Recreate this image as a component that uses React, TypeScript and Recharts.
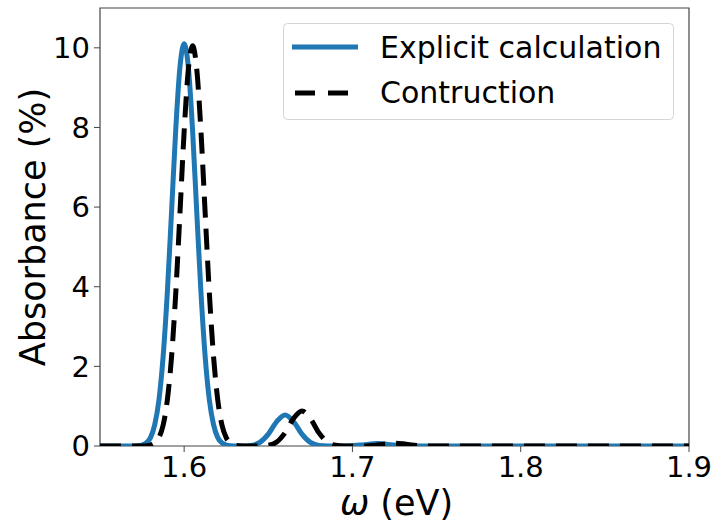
import React from "react"
import { LineChart, Line, XAxis, YAxis, Legend, ReferenceArea, Label } from "recharts"

// photon energy grid (eV)
const omega = [
  1.55, 1.56, 1.565,
  1.57, 1.5725, 1.575, 1.5775, 1.58, 1.5825, 1.585, 1.5875, 1.59, 1.5925, 1.595, 1.5975, 1.6,
  1.6025, 1.605, 1.6075, 1.61, 1.6125, 1.615, 1.6175, 1.62, 1.6225, 1.625, 1.6275, 1.63, 1.6325, 1.635,
  1.64, 1.645, 1.65, 1.655, 1.66, 1.665, 1.67, 1.675, 1.68, 1.685, 1.69, 1.695,
  1.7, 1.705, 1.71, 1.715, 1.72, 1.725, 1.73, 1.735, 1.74, 1.745, 1.75,
  1.76, 1.78, 1.8, 1.82, 1.84, 1.86, 1.88, 1.9,
]

// absorbance (%) from the explicit calculation
const explicit = [
  0, 0, 0,
  0.002, 0.007, 0.024, 0.076, 0.21, 0.53, 1.15, 2.24, 3.85, 5.87, 7.94, 9.51, 10.1,
  9.51, 7.94, 5.87, 3.85, 2.24, 1.15, 0.53, 0.21, 0.076, 0.024, 0.007, 0.002, 0, 0,
  0.016, 0.089, 0.297, 0.613, 0.78, 0.613, 0.297, 0.089, 0.016, 0.002, 0, 0,
  0.007, 0.023, 0.047, 0.06, 0.047, 0.023, 0.007, 0.001, 0, 0, 0,
  0, 0, 0, 0, 0, 0, 0, 0,
]

// absorbance (%) from the contruction
const contruction = [
  0, 0, 0,
  0, 0.001, 0.002, 0.007, 0.024, 0.076, 0.21, 0.52, 1.15, 2.23, 3.83, 5.84, 7.9,
  9.46, 10.05, 9.46, 7.9, 5.84, 3.83, 2.23, 1.15, 0.52, 0.21, 0.076, 0.024, 0.007, 0.002,
  0, 0.002, 0.019, 0.1, 0.335, 0.692, 0.88, 0.692, 0.335, 0.1, 0.019, 0.002,
  0, 0.001, 0.008, 0.027, 0.055, 0.07, 0.055, 0.027, 0.008, 0.001, 0,
  0, 0, 0, 0, 0, 0, 0, 0,
]

const xTicks = [1.6, 1.7, 1.8, 1.9]
const yTicks = [0, 2, 4, 6, 8, 10]

const X_DOMAIN: [number, number] = [1.55, 1.9]
const Y_DOMAIN: [number, number] = [0, 11]

const FONT = "'DejaVu Sans', sans-serif"
const BLUE = "#1f77b4"
const SPINE = "#444"
const DASH = "21 11"

const data = omega.map((w, i) => ({
  omega: w,
  explicit: explicit[i],
  contruction: contruction[i],
}))

const tickStyle = { fontSize: 29, fill: "#000", fontFamily: FONT }

function YTitle(props: any) {
  const vb = props.viewBox || { x: 0, y: 8, width: 100, height: 438 }
  const cy = vb.y + vb.height / 2
  const x = vb.x + 45
  return (
    <text
      x={x}
      y={cy}
      transform={`rotate(-90, ${x}, ${cy})`}
      textAnchor="middle"
      fontSize={35}
      fontFamily={FONT}
      fill="#000"
    >
      Absorbance (%)
    </text>
  )
}

function XTitle(props: any) {
  const vb = props.viewBox || { x: 100, y: 446, width: 589, height: 77 }
  const cx = vb.x + vb.width / 2 + 2
  return (
    <text x={cx} y={vb.y + 69} textAnchor="middle" fontSize={35} fontFamily={FONT} fill="#000">
      <tspan fontStyle="italic">ω</tspan> (eV)
    </text>
  )
}

function LegendBox() {
  return (
    <svg width={392} height={98} style={{ display: "block" }}>
      <rect x={0.5} y={0.5} width={390} height={96} rx={4} fill="rgba(255,255,255,0.8)" stroke="#d4d4d4" />
      <line x1={9} x2={75} y1={24} y2={24} stroke={BLUE} strokeWidth={5} />
      <text x={97} y={35} fontSize={30} fontFamily={FONT} fill="#000">
        Explicit calculation
      </text>
      <line x1={12} x2={72} y1={70} y2={70} stroke="#000" strokeWidth={5} strokeDasharray="20 13" />
      <text x={97} y={80} fontSize={30} fontFamily={FONT} fill="#000">
        Contruction
      </text>
    </svg>
  )
}

export default function App() {
  return (
    <div style={{ position: "absolute", left: 0, top: 0, background: "#fff" }}>
      <LineChart
        width={712}
        height={523}
        data={data}
        margin={{ top: 8, right: 23, bottom: 0, left: 0 }}
        style={{ fontFamily: FONT }}
      >
        <XAxis
          dataKey="omega"
          type="number"
          domain={X_DOMAIN}
          ticks={xTicks}
          allowDataOverflow
          height={77}
          axisLine={false}
          tickLine={{ stroke: SPINE }}
          tickSize={6}
          tickMargin={4}
          tick={tickStyle}
          tickFormatter={(v: number) => v.toFixed(1)}
        >
          <Label content={<XTitle />} />
        </XAxis>
        <YAxis
          type="number"
          domain={Y_DOMAIN}
          ticks={yTicks}
          allowDataOverflow
          width={100}
          axisLine={false}
          tickLine={{ stroke: SPINE }}
          tickSize={6}
          tickMargin={4}
          tick={tickStyle}
        >
          <Label content={<YTitle />} />
        </YAxis>
        <Line
          type="monotone"
          dataKey="explicit"
          name="Explicit calculation"
          stroke={BLUE}
          strokeWidth={5}
          dot={false}
          activeDot={false}
          isAnimationActive={false}
        />
        <Line
          type="monotone"
          dataKey="contruction"
          name="Contruction"
          stroke="#000"
          strokeWidth={5}
          strokeDasharray={DASH}
          dot={false}
          activeDot={false}
          isAnimationActive={false}
        />
        <ReferenceArea
          x1={X_DOMAIN[0]}
          x2={X_DOMAIN[1]}
          y1={Y_DOMAIN[0]}
          y2={Y_DOMAIN[1]}
          fill="none"
          fillOpacity={0}
          stroke={SPINE}
          strokeWidth={1.2}
        />
        <Legend
          layout="vertical"
          align="center"
          verticalAlign="middle"
          content={() => <LegendBox />}
          wrapperStyle={{ left: 283, top: 23, width: 392 }}
        />
      </LineChart>
    </div>
  )
}
